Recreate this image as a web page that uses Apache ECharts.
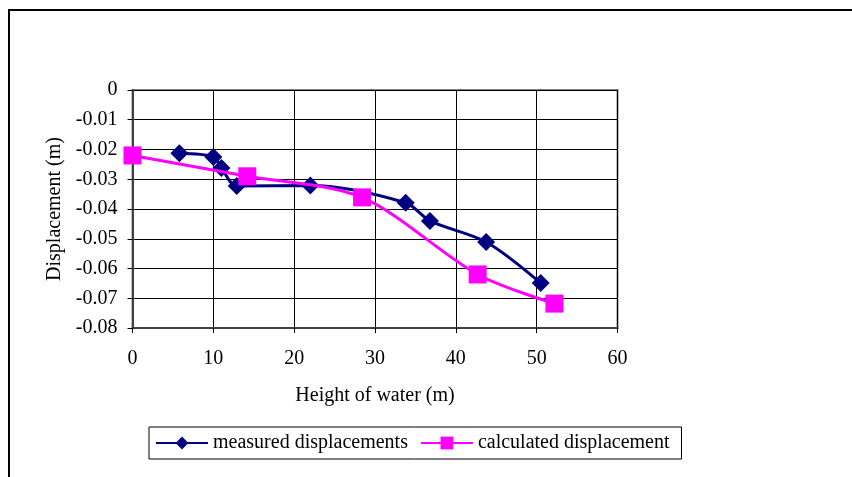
<!DOCTYPE html>
<html>
<head>
<meta charset="utf-8">
<script src="https://cdn.jsdelivr.net/npm/echarts@6/dist/echarts.min.js"></script>
<style>
html,body{margin:0;padding:0;background:#fff;}
#c{width:852px;height:477px;}
</style>
</head>
<body>
<div id="c"></div>
<script>
var xTicks = [0, 10, 20, 30, 40, 50, 60];
var yTicks = [0, -0.01, -0.02, -0.03, -0.04, -0.05, -0.06, -0.07, -0.08];

var measuredX = [5.8, 10, 11, 12.9, 22, 33.8, 36.8, 43.75, 50.5];
var measuredY = [-0.0213, -0.0225, -0.0262, -0.0323, -0.0321, -0.0379, -0.0440, -0.0511, -0.0649];

var calcX = [0, 14.2, 28.4, 42.7, 52.2];
var calcY = [-0.0220, -0.0290, -0.0361, -0.0620, -0.0718];

var seriesNames = ['measured displacements', 'calculated displacement'];
var xName = 'Height of water (m)';
var yName = 'Displacement (m)';

function pairs(xs, ys) { return xs.map(function (x, i) { return [x, ys[i]]; }); }

var FONT = "'Liberation Serif', 'Times New Roman', serif";
var FS = 20;
var chart = echarts.init(document.getElementById('c'), null, {renderer: 'canvas'});
chart.setOption({
  animation: false,
  backgroundColor: '#ffffff',
  textStyle: {fontFamily: FONT, color: '#000'},
  grid: {left: 132.5, right: 234.5, top: 90, bottom: 149, show: true, borderColor: '#808080', borderWidth: 2, containLabel: false},
  xAxis: {
    type: 'value', min: xTicks[0], max: xTicks[xTicks.length - 1], interval: 10,
    name: xName, nameLocation: 'middle', nameGap: 58,
    nameTextStyle: {fontFamily: FONT, fontSize: FS, color: '#000'},
    axisLine: {show: true, onZero: false, lineStyle: {color: '#404040', width: 2}},
    axisTick: {show: true, inside: false, length: 5, lineStyle: {color: '#000'}},
    axisLabel: {margin: 21, fontFamily: FONT, fontSize: FS, color: '#000'},
    splitLine: {show: true, lineStyle: {color: '#000', width: 1}}
  },
  yAxis: {
    type: 'value', min: yTicks[yTicks.length - 1], max: yTicks[0], interval: 0.01,
    name: yName, nameLocation: 'middle', nameGap: 61, nameRotate: 90,
    nameTextStyle: {fontFamily: FONT, fontSize: FS, color: '#000'},
    axisLine: {show: true, onZero: false, lineStyle: {color: '#404040', width: 2}},
    axisTick: {show: true, inside: false, length: 5, lineStyle: {color: '#000'}},
    axisLabel: {margin: 15, fontFamily: FONT, fontSize: FS, color: '#000',
      formatter: function (v) { return v === 0 ? '0' : String(+v.toFixed(2)); }},
    splitLine: {show: true, lineStyle: {color: '#000', width: 1}}
  },
  legend: {
    show: true, left: 149, top: 427, orient: 'horizontal',
    padding: [6, 12, 6, 6], itemGap: 12, itemWidth: 52, itemHeight: 16,
    borderColor: '#000', borderWidth: 1, borderRadius: 0,
    textStyle: {fontFamily: FONT, fontSize: FS, color: '#000'},
    data: seriesNames
  },
  graphic: [
    {type: 'line', shape: {x1: 8, y1: 10, x2: 852, y2: 10}, style: {stroke: '#000', lineWidth: 2}, silent: true},
    {type: 'line', shape: {x1: 9, y1: 10, x2: 9, y2: 477}, style: {stroke: '#000', lineWidth: 2}, silent: true}
  ],
  series: [
    {
      name: seriesNames[0], type: 'line', data: pairs(measuredX, measuredY),
      smooth: 0.3, symbol: 'diamond', symbolSize: 18,
      lineStyle: {color: '#000080', width: 3},
      itemStyle: {color: '#000080'}, z: 2
    },
    {
      name: seriesNames[1], type: 'line', data: pairs(calcX, calcY),
      smooth: 0.3, symbol: 'rect', symbolSize: 18,
      lineStyle: {color: '#FF00FF', width: 3},
      itemStyle: {color: '#FF00FF'}, z: 3
    }
  ]
});
</script>
</body>
</html>
